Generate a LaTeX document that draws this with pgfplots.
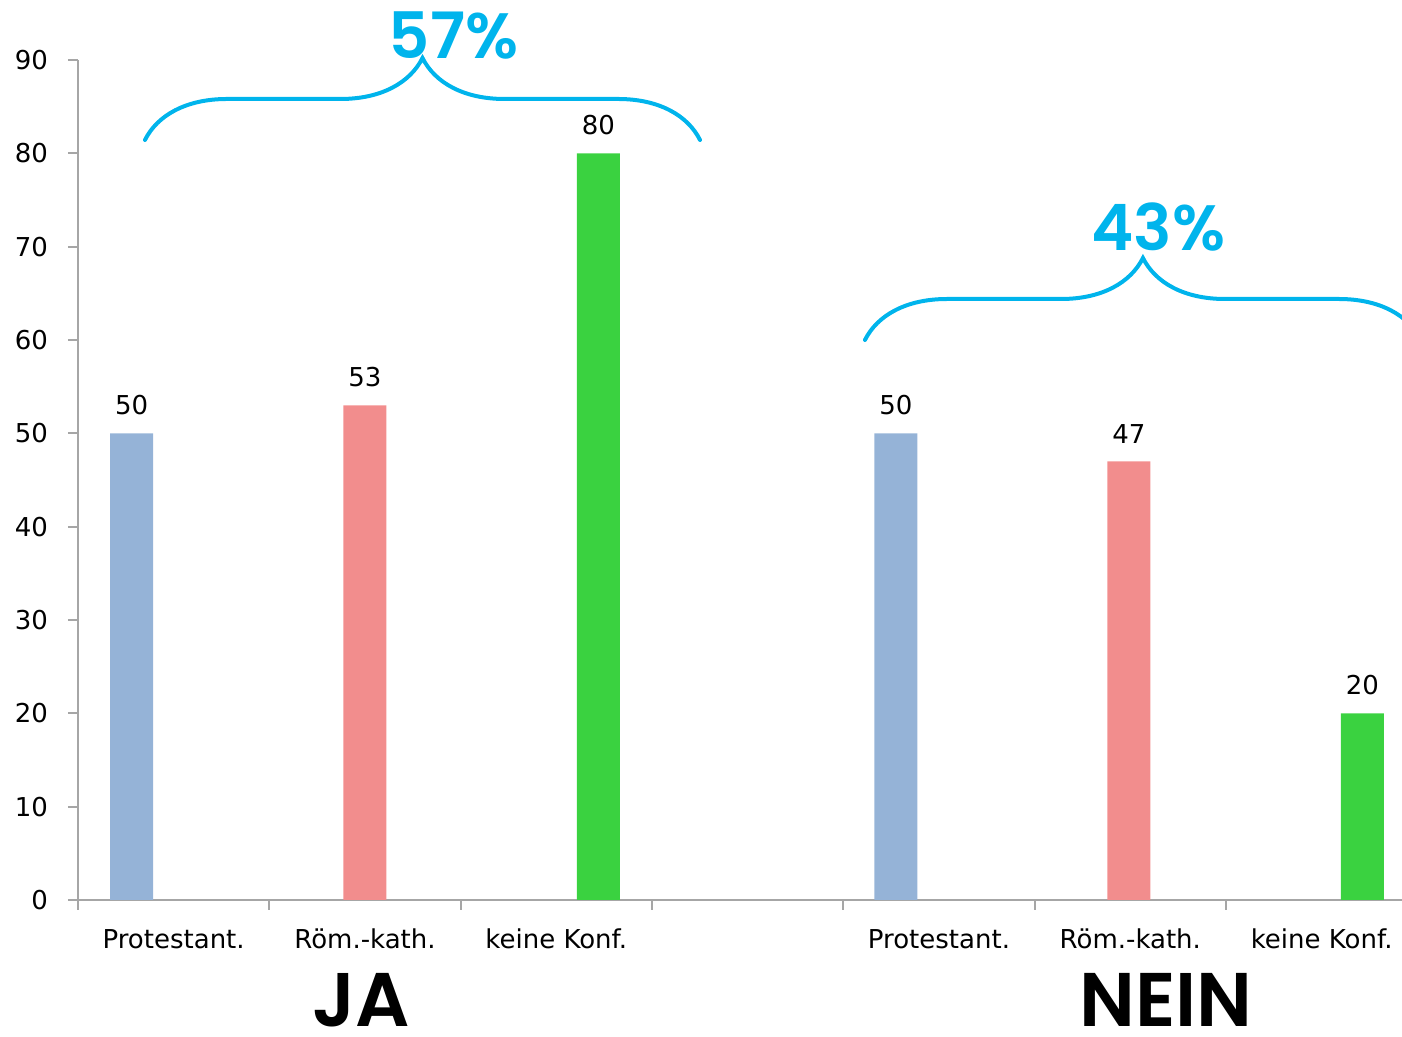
\documentclass[border=0pt]{standalone}
\usepackage{pgfplots}
\pgfplotsset{compat=1.18}
\usepackage{fontspec}
\setmainfont{DejaVu Sans}
\newfontfamily\geo{Poppins}[UprightFont=* SemiBold]
\usetikzlibrary{decorations.pathreplacing}
\definecolor{barblue}{HTML}{95B3D7}
\definecolor{barred}{HTML}{F28D8D}
\definecolor{bargreen}{HTML}{3AD240}
\definecolor{cyanb}{HTML}{00B4EC}
\definecolor{axgray}{HTML}{A6A6A6}
\begin{document}
\begin{tikzpicture}
\path[use as bounding box] (-39pt,-68.5pt) rectangle (662pt,450pt);
\begin{axis}[
  at={(0,0)}, anchor=south west,
  scale only axis, width=662pt, height=420pt,
  xmin=-0.5, xmax=6.42, ymin=0, ymax=90,
  axis lines=left, axis line style={draw=axgray, line width=1pt, -},
  clip=false,
  ytick={0,10,...,90},
  xtick={0,1,2,4,5,6},
  xticklabels={Protestant.,Röm.-kath.,keine Konf.,Protestant.,Röm.-kath.,keine Konf.},
  xtick style={draw=none},
  minor xtick={-0.5,0.5,...,5.5},
  tick align=outside,
  major tick length=5pt, minor tick length=5pt,
  ytick style={draw=axgray, line width=1pt},
  minor x tick style={draw=axgray, line width=1pt},
  tick label style={font=\fontsize{13}{15}\selectfont, text=black},
  /pgf/number format/assume math mode=true,
  yticklabel style={xshift=-6.5pt},
  xticklabel style={yshift=-6pt},
  ybar, bar width=21.5pt, bar shift=0pt,
  nodes near coords,
  every node near coord/.append style={font=\fontsize{13}{15}\selectfont, text=black, yshift=5.5pt},
]
\addplot[fill=barblue, draw=none] coordinates {(-0.22,50) (3.775,50)};
\addplot[fill=barred, draw=none] coordinates {(1,53) (4.993,47)};
\addplot[fill=bargreen, draw=none] coordinates {(2.22,80) (6.213,20)};
\draw[cyanb, line width=2pt, line cap=round, decorate, decoration={brace, amplitude=41pt}]
  (axis cs:-0.15,81.43) -- (axis cs:2.751,81.43);
\draw[cyanb, line width=2pt, line cap=round, decorate, decoration={brace, amplitude=41pt}]
  (axis cs:3.613,60) -- (axis cs:6.519,60);
\node[anchor=base, inner sep=0pt, text=cyanb, font=\geo\fontsize{32}{38}\selectfont] at (axis cs:1.4626,90.2) {57\%};
\node[anchor=base, inner sep=0pt, text=cyanb, font=\geo\fontsize{32}{38}\selectfont] at (axis cs:5.147,69.6) {43\%};
\node[anchor=base, inner sep=0pt, font=\geo\fontsize{38}{44}\selectfont] at (axis cs:0.979,-13.6) {JA};
\node[anchor=base, inner sep=0pt, font=\geo\fontsize{38}{44}\selectfont] at (axis cs:5.186,-13.6) {NEIN};
\end{axis}
\end{tikzpicture}
\end{document}
